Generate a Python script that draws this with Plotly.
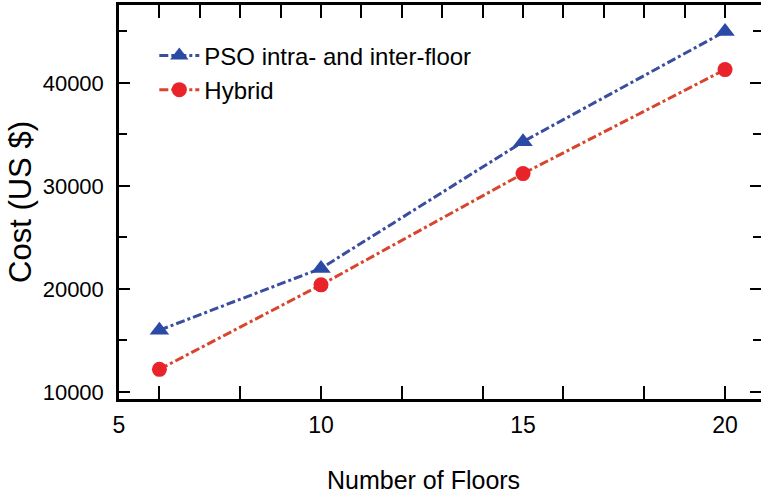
import plotly.graph_objects as go

floors = [6, 10, 15, 20]
pso = [16000, 22000, 34300, 45000]
hybrid = [12200, 20400, 31200, 41300]
x_label_ticks = [5, 10, 15, 20]
x_minor_bottom = [6, 8, 10, 12, 14, 16, 18, 20]
x_minor_top = list(range(6, 21))
y_major = [10000, 20000, 30000, 40000]
y_labels = ["10000", "20000", "30000", "40000"]

FONT = "Liberation Sans, Arial"
fig = go.Figure()

fig.add_trace(go.Scatter(
    x=floors, y=pso, name="PSO intra- and inter-floor", mode="lines+markers",
    line=dict(color="#3a4d9e", width=3, dash="dashdot"),
    marker=dict(symbol="triangle-up", size=17, color="#2a4aa6"),
))
fig.add_trace(go.Scatter(
    x=floors, y=hybrid, name="Hybrid", mode="lines+markers",
    line=dict(color="#d9452c", width=3, dash="dashdot"),
    marker=dict(symbol="circle", size=15, color="#e8242a"),
))
# invisible helper traces so the extra tick axes render
fig.add_trace(go.Scatter(x=floors, y=pso, xaxis="x2", yaxis="y2", mode="markers",
                         marker=dict(opacity=0), showlegend=False, hoverinfo="skip"))
fig.add_trace(go.Scatter(x=floors, y=pso, xaxis="x3", yaxis="y2", mode="markers",
                         marker=dict(opacity=0), showlegend=False, hoverinfo="skip"))

xr = [5, 20.89]
yr = [9320, 47570]
fig.update_layout(
    width=761, height=498,
    margin=dict(l=119, r=0, t=5, b=99),
    plot_bgcolor="white", paper_bgcolor="white",
    font=dict(family=FONT, color="black"),
    xaxis=dict(range=xr, tickvals=x_label_ticks, ticks="", showline=True,
               linecolor="black", linewidth=2.5, showgrid=False, zeroline=False,
               tickfont=dict(family=FONT, size=23), ticklabelstandoff=4),
    xaxis2=dict(overlaying="x", matches="x", side="bottom", tickvals=x_minor_bottom,
                ticks="inside", ticklen=13, tickwidth=2, tickcolor="black",
                showticklabels=False, showline=False, showgrid=False, zeroline=False),
    xaxis3=dict(overlaying="x", matches="x", side="top", tickvals=x_minor_top,
                ticks="inside", ticklen=13, tickwidth=2, tickcolor="black",
                showticklabels=False, showline=True, linecolor="black", linewidth=2.5,
                showgrid=False, zeroline=False),
    yaxis=dict(range=yr, tickvals=y_major, ticktext=y_labels, ticks="inside", ticklen=11,
               tickwidth=2, tickcolor="black", showline=True, linecolor="black",
               linewidth=2.5, showgrid=False, zeroline=False,
               minor=dict(dtick=10000, tick0=5000, ticks="inside", ticklen=8,
                          tickwidth=2, tickcolor="black", showgrid=False),
               tickfont=dict(family=FONT, size=22), ticklabelstandoff=8,
               title=dict(text="Cost (US $)", font=dict(family=FONT, size=31),
                          standoff=2)),
    yaxis2=dict(overlaying="y", matches="y", side="right", tickvals=y_major,
                ticks="inside", ticklen=11, tickwidth=2, tickcolor="black",
                showticklabels=False, showline=True, linecolor="black", linewidth=2.5,
                minor=dict(dtick=10000, tick0=5000, ticks="inside", ticklen=8,
                           tickwidth=2, tickcolor="black", showgrid=False),
                showgrid=False, zeroline=False),
    legend=dict(x=0.055, y=0.928, xanchor="left", yanchor="top", bgcolor="rgba(0,0,0,0)",
                font=dict(family=FONT, size=24), tracegroupgap=0, itemwidth=40),
    showlegend=True,
    annotations=[dict(text="Number of Floors", xref="paper", yref="paper",
                      x=(423 - 119) / 642, y=-(480 - 399) / 394, xanchor="center",
                      yanchor="middle", showarrow=False, font=dict(family=FONT, size=25))],
)

fig.write_html("out.html")
